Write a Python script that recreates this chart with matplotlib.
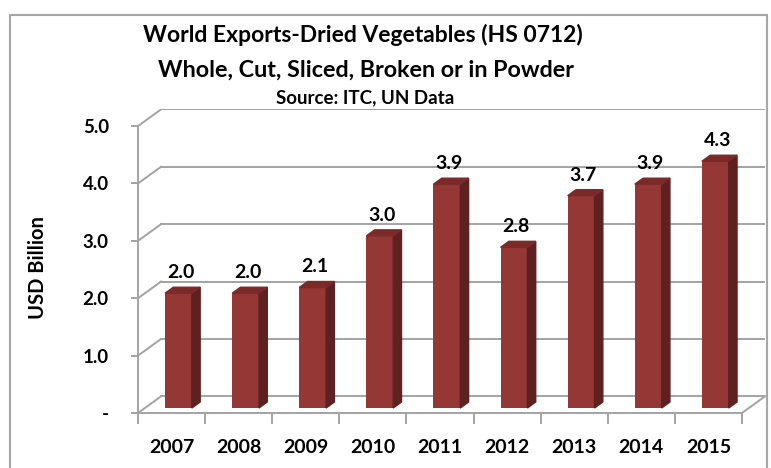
import matplotlib
matplotlib.use('Agg')
import matplotlib.pyplot as plt
from matplotlib.patches import Polygon, Rectangle

# data
years = ['2007', '2008', '2009', '2010', '2011', '2012', '2013', '2014', '2015']
values = [2.0, 2.0, 2.1, 3.0, 3.9, 2.8, 3.7, 3.9, 4.3]
yticks = [0, 1, 2, 3, 4, 5]
ytick_labels = ['-', '1.0', '2.0', '3.0', '4.0', '5.0']

plt.rcParams['font.family'] = ['Lato', 'DejaVu Sans']

front_col = '#953735'
side_col = '#5e2120'
top_col = '#7a2b29'
grid_col = '#a3a3a3'

# fake 3d depth (in data units)
dx, dy = 0.343, 0.29
f0, d = 0.3, 0.36   # where the bar sits in depth, and how deep it is
w = 0.4

fig = plt.figure(figsize=(7.71, 4.68), dpi=100)
ax = fig.add_axes([138 / 771, 55 / 468, 627 / 771, 303.6 / 468])
n = len(years)
ax.set_xlim(0, n + dx)
ax.set_ylim(0, 5 + dy)

# back wall and side wall grid
for v in yticks:
    ax.plot([dx, n + dx], [v + dy, v + dy], color=grid_col, lw=1.4, zorder=1)
    ax.plot([0, dx], [v, v + dy], color=grid_col, lw=1.4, zorder=1)
# floor right edge
ax.plot([n, n + dx], [0, dy], color=grid_col, lw=1.4, zorder=1, clip_on=False)

# bars
for i, v in enumerate(values):
    x0 = i + (1 - w) / 2 + f0 * dx
    y0 = f0 * dy
    ax.bar(x0, v, width=w, bottom=y0, align='edge', color=front_col, zorder=3)
    side = [(x0 + w, y0), (x0 + w + d * dx, y0 + d * dy),
            (x0 + w + d * dx, y0 + v + d * dy), (x0 + w, y0 + v)]
    top = [(x0, y0 + v), (x0 + w, y0 + v),
           (x0 + w + d * dx, y0 + v + d * dy), (x0 + d * dx, y0 + v + d * dy)]
    ax.add_patch(Polygon(side, closed=True, color=side_col, zorder=3))
    ax.add_patch(Polygon(top, closed=True, color=top_col, zorder=3))
    ax.annotate('%.1f' % v, (x0 + w / 2 + d * dx / 4, y0 + v + d * dy),
                xytext=(0, 10.5), textcoords='offset points', ha='center',
                va='center', fontsize=14, fontweight='bold', zorder=4)

# axes
for s in ['top', 'right']:
    ax.spines[s].set_visible(False)
ax.spines['left'].set_bounds(0, 5)
ax.spines['bottom'].set_bounds(0, n)
for s in ['left', 'bottom']:
    ax.spines[s].set_color(grid_col)
    ax.spines[s].set_linewidth(1.4)

ax.set_yticks(yticks)
ax.set_yticklabels(ytick_labels, fontsize=13.5, fontweight='bold')
ax.tick_params(axis='y', length=5, width=1.4, color=grid_col, pad=16)

ax.set_xticks(range(n + 1))
ax.set_xticklabels([])
ax.set_xticks([i + 0.5 for i in range(n)], minor=True)
ax.set_xticklabels(years, minor=True, fontsize=14, fontweight='bold')
ax.tick_params(axis='x', which='major', length=8, width=1.4, color=grid_col)
ax.tick_params(axis='x', which='minor', length=0, pad=19)

ax.set_ylabel('USD Billion', fontsize=14.5, fontweight='bold')
ax.yaxis.set_label_coords(-90 / 627, 0.48)

# titles
fig.text(363 / 771, 1 - 35 / 468, 'World Exports-Dried Vegetables (HS 0712)',
         ha='center', va='center', fontsize=16.5, fontweight='bold')
fig.text(366 / 771, 1 - 70 / 468, 'Whole, Cut, Sliced, Broken or in Powder',
         ha='center', va='center', fontsize=16.8, fontweight='bold')
fig.text(365 / 771, 1 - 98 / 468, 'Source: ITC, UN Data',
         ha='center', va='center', fontsize=13.5, fontweight='bold')

# chart border
fig.patches.append(Rectangle((10 / 771, -0.02), 757 / 771, 1.02 - 15 / 468,
                             transform=fig.transFigure, fill=False,
                             edgecolor='#a6a6a6', lw=1.5))

fig.savefig('out.png', dpi=100)
